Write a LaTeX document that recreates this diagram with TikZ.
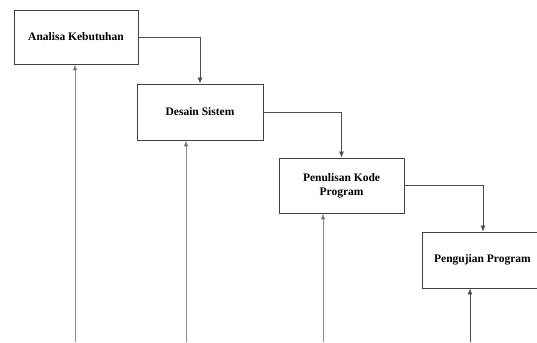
\documentclass[tikz,border=0pt]{standalone}
\usepackage{fontspec}
\setmainfont{Liberation Serif}
\usetikzlibrary{arrows.meta}
\begin{document}
\begin{tikzpicture}[x=1pt,y=-1pt,
  box/.style={draw=black!75,line width=0.9pt,fill=white,inner sep=0pt,align=center,font=\fontsize{11.5}{14}\selectfont\bfseries},
  flow/.style={draw=black!70,line width=0.7pt,-{Latex[length=6pt,width=5pt]}},
  up/.style={draw=black!45,line width=0.9pt,-{Latex[length=6pt,width=5pt,fill=black!70]}}]
\useasboundingbox (0,0) rectangle (537,342);
\clip (0,0) rectangle (537,342);
\node[box,minimum width=124pt,minimum height=54pt] (a) at (76,37) {Analisa Kebutuhan};
\node[box,minimum width=126pt,minimum height=56pt] (b) at (200,112) {Desain Sistem};
\node[box,minimum width=125pt,minimum height=55pt] (c) at (341.5,185.5) {Penulisan Kode\\Program};
\node[box,minimum width=124pt,minimum height=56pt,anchor=west] (d) at (422,260) {\hspace*{2pt}Pengujian Program\hspace*{6pt}};
\coordinate (a1) at (75,342);
\coordinate (b1) at (186,342);
\coordinate (c1) at (323,342);
\coordinate (d1) at (470,342);
\draw[flow] (a.east) -| (b.north);
\draw[flow] (b.east) -| (c.north);
\draw[flow] (c.east) -| (d.north -| 483,0);
\draw[up] (a1) -- (a1 |- a.south);
\draw[up] (b1) -- (b1 |- b.south);
\draw[up] (c1) -- (c1 |- c.south);
\draw[flow] (d1) -- (d1 |- d.south);
\end{tikzpicture}
\end{document}
